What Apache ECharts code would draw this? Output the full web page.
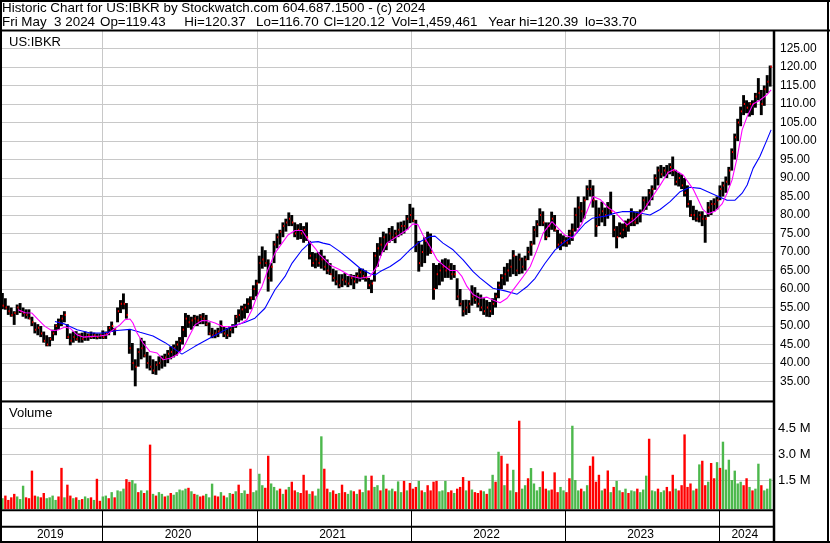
<!DOCTYPE html>
<html><head><meta charset="utf-8">
<script src="https://cdn.jsdelivr.net/npm/echarts@6/dist/echarts.min.js"></script>
<style>html,body{margin:0;padding:0;background:#fff}#c{width:830px;height:543px}</style>
</head><body><div id="c"></div>
<script>
// ---------- data ----------
const titleLine1 = 'Historic Chart for US:IBKR by Stockwatch.com 604.687.1500 - (c) 2024';
const titleFields = ['Fri May  3 2024','Op=119.43','Hi=120.37','Lo=116.70','Cl=120.12','Vol=1,459,461','Year hi=120.39','lo=33.70'];
const symbolLabel = 'US:IBKR';
const volumeLabel = 'Volume';
const firstWeek = '2019-05-09';           // week 0 (weekly bars)
const axisStart = '2019-05-08';
const axisEnd = '2024-05-11';
const yearLabels = ['2019','2020','2021','2022','2023','2024'];
const yearBoundaries = ['2020-01-01','2021-01-01','2022-01-01','2023-01-01','2024-01-01'];
const priceTicks = {min:30, max:130, step:5};
const volumeTicks = {min:0, max:6, step:1.5};

const priceLow = [
54.5,54.4,53,52.5,50.3,53,53.5,52.5,52,51.8,
50,48,47.5,47,45.5,44.5,44.5,46,47.5,49,
50,51,46.5,44.8,45.5,46,45.5,45.5,46,46,
46.5,46.5,46.4,46.5,46.5,46.5,47.5,48.5,47.5,51,
53.5,54.5,52,42.5,38,33.7,39,41,41.5,38.5,
38,37,36.8,38,38.5,39,40,41,41.5,42,
43,45,47,49.5,49,50,50,50.5,50.5,50,
47.5,46.7,46.7,47,48,47,46.5,47,48,49.5,
51,51.5,52,53.5,54.5,57,58,61.5,65.5,66,
59.3,62,67,71,72,74,75.5,77,77,74,
73.3,73.5,72.5,73,68,66,65.6,66,65.5,65,
64,63.8,62,61,60.2,60.5,61,60.5,61,60,
61.5,62,62.5,62,60,58.9,62,66,69,70,
70.5,72.5,73,72.4,74,74.5,75,76,77.8,78,
70,64.7,66,67,69,69.5,57.1,60,61,62,
63,63,62.5,63,57,55.3,52.6,53,53.5,55.5,
56,55,54,53,52.5,52.4,53,55,57.5,60,
61,62,63.3,64,63.5,64,64.2,65,67.8,69,
72,74,77,77,73.2,74,76,75.5,71,70.5,
71.5,71.4,72,73,75.5,76.5,78,79,84,85,
82,74.1,77,78,77,79,80,74,71,74,
73.7,74,75.5,77,77,77.5,78,81,81.4,82.5,
84,86.8,88,90,90.4,90,91,90.5,88,87.7,
87,85,82,79.5,78.6,78.2,78,77,72.5,79.5,
80,81,81.5,84,85,86,88,92,95,100,
104,107,107.5,106.6,107,109,111,107,109.5,112.9,
114.7];
const priceHigh = [
58.9,57.5,55.5,55,54,55.8,56.2,55,54.5,54.5,
52.5,51,50.5,50,48.5,47.5,47,49,50.5,52,
53,54,50.5,48,48.5,48.6,48,48.2,48.5,48,
48.5,48.2,48,48,48.8,48.5,50,51.2,49.5,55,
57,58.8,56.2,49,45.4,41,44,46.8,46,43,
42,41,40.5,41.8,42,42.5,43.5,44.5,45,46,
47,50,53.5,53,52.5,53,52.8,53.2,53.5,53,
51,49.5,49,49.5,51.5,50,49.5,50,50.5,53,
54.5,55.5,56,57.5,58,61,62.5,69,71.5,70.5,
68,67,73,75,76,78,79,80.7,80,78,
77.5,77.8,77,78,73,70,69.7,70,70.6,69,
68,67,65.5,65,64,64,64.3,63.5,64,63.8,
64.5,65.6,65.5,65,63,62.5,70,72.4,74,75.5,
75,76.5,77,76,78,78.2,78.5,80,83,82,
78.7,73,72,74,75.5,75,67,66.5,67,68,
68.3,68,67,66.5,62.9,60,57,57.1,57,61,
60.5,59,58.5,57.5,57,56.5,57.5,59,62,64,
66,67,68,70.5,69,69.6,68.5,69,71.4,73,
77,78.6,81.8,81,78,78,80.9,80,76,75,
74.5,74,76,77.7,82,85,83.5,85,88,89.5,
88,84,82,83.6,82,83.5,86.3,80,77,78,
77.7,78.5,79,81.8,81,81,81.5,85,85,87,
88,91,93.1,93.5,93,93.5,94,95.8,92.2,91.5,
91,90,88,84,82.5,81.4,81,81,80,83.5,
84,84.5,85,88,89,90.4,93,98,102,106,
109.3,112.4,111,110.5,111,113,117,113.8,115,117.8,
120.4];
const priceClose = [
55.5,55,54,53,53.5,55,54,53.5,53,52,
51,49,49.5,48,46,45,46.5,48,50,51,
52,53,47,46,47,46.5,47.5,46.5,47,47.5,
47,47.5,47,47.5,47,48,49.5,50,49,54,
56,56,53,44,40,39,43,44,42,40,
39,38,39.5,40,41,41.5,42.5,43,44,45,
46,49,52,51,51.5,52,51.5,52.5,52,50.5,
48,47.5,48,48.5,50,48,47.5,49,50,52.5,
53,54.5,55,56,57.5,60,61.5,67,68,67,
63,66,72,74,75.5,77,78,79,78,75,
76,75,76,74,69,67,68,67,68,66,
65,64,63,62,61,62.5,62,61.5,63,62,
63.5,64.5,63.5,63,61,61.5,69,71,72,74,
72,75,74,75,76,77,77,79,80,78.5,
72,67,70,73,72,70,60,64,65,66,
65,66,64,64,58,56,54,55,56,58,
57,56,55,54,55,54,56,58,61,63,
64,65,66,69,65,68,66,68,70,72,
76,77.5,80,78,74,77,79,76,72,72.5,
73,72.5,75,76,80,82,81,84,87,87,
84,77,80,81,80,82,81,76,74,75,
76,77,78,79,78,80,80.5,84,83,86,
87,90,92,91,92,91.5,93,92,89,90,
88,86,83,80,80,79,80,79,79,82,
83,83,84,87,88,89,92,97,101,105,
108,110,109,110,110,112,113,110,114,116,
120.1];
const volume = [
0.45,0.6,0.35,0.5,0.7,0.55,0.4,1.17,0.5,0.45,
2.04,0.6,0.55,0.5,0.75,0.45,0.5,0.6,0.35,0.55,
2.2,0.5,1.23,0.6,0.45,0.5,0.35,0.4,0.55,0.45,
0.5,0.35,1.57,0.3,0.55,0.6,0.45,0.8,0.5,0.9,
0.85,1.0,1.55,1.4,1.5,1.3,0.8,0.9,0.75,0.9,
3.54,0.7,0.6,0.8,0.7,0.55,0.6,0.75,0.65,0.8,
0.95,0.9,1.0,1.05,0.85,0.7,0.65,0.55,0.6,0.7,
0.5,1.29,0.6,0.55,0.8,0.6,0.5,0.75,0.7,0.85,
1.23,0.75,0.9,0.7,2.15,0.8,0.9,1.86,1.2,1.05,
2.9,1.3,1.1,0.9,1.0,0.7,0.95,1.1,1.4,0.9,
0.8,0.75,1.8,0.9,0.7,0.85,0.6,1.0,4.02,2.15,
1.0,0.8,0.9,0.7,0.75,1.23,0.8,0.7,0.9,0.85,
0.7,0.95,0.8,1.75,0.9,1.75,1.1,1.2,0.9,1.8,
1.0,0.9,1.0,0.85,1.42,0.8,1.45,0.9,1.33,1.0,
1.1,1.45,0.9,0.8,1.2,0.9,1.4,1.45,0.85,0.9,
1.45,0.8,0.9,0.75,1.0,1.1,1.67,0.9,1.45,0.95,
0.8,0.75,0.9,0.85,0.7,1.0,1.8,1.4,3.13,2.9,
1.2,2.44,0.9,2.09,0.8,4.92,1.0,1.2,1.6,2.19,
1.3,0.9,1.1,2.0,1.0,0.9,0.95,1.94,0.8,1.1,
0.9,0.8,1.6,4.63,1.5,0.9,1.0,0.85,1.2,2.32,
2.86,1.4,1.8,0.9,1.0,2.05,0.8,1.1,1.45,0.9,
0.8,1.0,0.75,0.9,0.85,1.0,0.8,0.95,1.75,3.88,
0.9,0.85,1.0,0.8,0.9,1.1,0.85,1.8,1.0,0.9,
1.2,4.13,1.1,1.3,0.9,1.0,2.4,2.61,1.2,1.4,
2.48,1.6,2.53,2.2,3.71,2.1,2.67,1.5,2.04,1.3,
1.4,1.2,1.6,1.1,0.9,1.0,2.44,1.2,0.9,1.0,
1.58];
// u = up-day volume (green), d = down (red)
const volumeDir =
'udddduuudd'+'ddudduuuud'+'duddududuu'+'dudduududu'+'uudduududu'+
'duduududuu'+'uuudududdu'+'uudduduudu'+'duudduuuud'+'duuudududd'+
'uddduduuud'+'duddudduud'+'uduudduudu'+'duuduududd'+'dududddduu'+
'uddudddudu'+'ddduduudud'+'uduudduudu'+'uuuddudddu'+'udduuuduud'+
'dddudduduu'+'duduuduuud'+'uuduudddud'+'ddddududdu'+'dduduuuuuu'+
'udduduuduu'+'u';
// moving averages, read at week positions
const ma50Week = [5.3,7.7,10.0,12.1,14.4,16.8,18.8,21.2,22.9,25.3,27.3,30.7,33.0,35.4,37.5,39.8,41.5,43.2,44.2,45.6,47.6,50.0,52.4,54.4,56.8,59.1,61.2,62.9,65.2,67.6,69.6,72.0,74.4,76.4,78.8,81.1,82.8,84.5,86.2,87.9,89.9,92.3,94.7,96.7,99.1,101.5,103.5,105.9,107.5,110.9,114.3,117.7,121.1,124.5,126.9,128.5,130.2,133.6,137.0,139.0,140.7,142.4,144.8,147.2,149.2,151.6,153.9,155.6,157.3,159.4,161.7,164.1,166.1,168.5,170.9,172.9,176.3,178.7,181.0,183.1,186.1,188.1,190.5,193.2,196.3,200.0,202.4,205.1,207.4,211.5,213.6,216.9,219.3,222.7,225.4,227.4,230.5,233.9,237.2,238.9,241.3,243.7,245.4,247.1,248.8,250.5,252.2,254.2,256.5,258.9,260.3];
const ma50Value = [54.4,53.6,53.5,51.7,49.9,48.7,48.9,49.7,49.4,47.6,47,47.2,47.3,47.6,49,50.3,51.7,51.9,50.8,48.1,45.4,43.1,42.7,40.9,41.3,42.2,44,46.7,50.3,51.5,51.4,50.8,49.9,49.8,50,50.8,51.7,54.4,58,60.7,65.2,69.7,72.4,74.6,75.8,75.8,73.3,71,69.2,66.5,65.2,63.6,62.9,63.4,66.1,69.7,72.4,74.2,76,77.6,77.4,74.6,71.5,67.9,66.5,65,65,63.4,60.7,58.5,57.5,57.8,57,56.3,57.5,59.7,63.3,66,70.5,75.1,78.2,76.5,74.5,73.8,77.8,85,84.2,82,80.8,77.3,78.5,81,84,88,91.5,92.3,90.8,87,81.5,80.3,81,83,85.9,89.5,95.5,103,106.6,110,111,112.5,113.8];
const ma200Week = [17.8,21.2,25.3,29.7,34.1,38.8,43.2,46.6,51.0,55.1,60.8,65.2,68.6,72.0,77.7,82.2,85.5,88.9,92.3,95.7,98.1,101.5,104.2,106.9,108.6,110.9,114.3,117.7,121.1,124.5,126.2,127.9,131.3,134.6,138.0,141.4,144.8,146.5,149.2,152.6,156.0,159.4,161.7,166.1,170.2,174.3,177.6,180.4,183.7,187.1,190.5,193.9,197.3,199.7,204.1,207.5,209.8,213.6,219.3,222.7,226.1,229.5,232.8,236.2,239.6,243.0,245.4,248.1,250.5,252.2,254.2,256.5,258.9,260.3];
const ma200Value = [51.2,50.5,49,48.1,48.1,48.8,49.1,48.3,47.3,45.5,42.4,44.5,46,47.5,49.9,51,52.1,54.8,59.8,63.4,67,70.6,72.6,72.8,72.4,72,70.1,67.9,65.6,64.1,63.8,64.7,66.1,67.9,70.6,72.8,74.2,74.3,72.4,70.6,67.9,64.7,63,60.2,59.5,58.6,60.6,62.9,66.9,70.5,72.8,74.6,77.7,79.1,79.7,80.5,80.9,80.9,80,81.5,83.6,86.3,87.5,87.2,86,84.8,84,84,85.9,88.1,92.6,95.8,100.3,103];

// ---------- build ----------
const DAY = 86400000;
const t0 = Date.parse(firstWeek + 'T00:00:00Z');
const weekTime = w => t0 + w * 7 * DAY;
const tMin = Date.parse(axisStart + 'T00:00:00Z');
const tMax = Date.parse(axisEnd + 'T00:00:00Z');
const FONT = '"Liberation Sans", Arial, sans-serif';

const priceData = priceLow.map((lo, i) => [weekTime(i), lo, priceHigh[i], priceClose[i]]);
const volData = volume.map((v, i) => [weekTime(i), v, volumeDir[i] === 'u' ? 1 : 0]);
const ma50Data = ma50Week.map((w, k) => [weekTime(w), ma50Value[k]]);
const ma200Data = ma200Week.map((w, k) => [weekTime(w), ma200Value[k]]);

const chart = echarts.init(document.getElementById('c'), null, {renderer: 'canvas'});

chart.setOption({
  animation: false,
  backgroundColor: '#ffffff',
  grid: [
    {left: 2, top: 30, width: 772, height: 370},
    {left: 2, top: 402, width: 772, height: 104}
  ],
  xAxis: [
    {gridIndex: 0, type: 'time', min: tMin, max: tMax, show: false},
    {gridIndex: 1, type: 'time', min: tMin, max: tMax, show: false}
  ],
  yAxis: [
    {gridIndex: 0, type: 'value', position: 'right', min: priceTicks.min, max: priceTicks.max, interval: priceTicks.step,
     axisLine: {show: false}, axisTick: {show: false},
     splitLine: {show: true, lineStyle: {color: '#c8c8c8', width: 1}},
     axisLabel: {margin: 6, color: '#000', fontSize: 12, fontFamily: FONT, align: 'left',
       formatter: v => (v <= priceTicks.min || v >= priceTicks.max) ? '' : v.toFixed(2)}},
    {gridIndex: 1, type: 'value', position: 'right', min: volumeTicks.min, max: volumeTicks.max, interval: volumeTicks.step,
     axisLine: {show: false}, axisTick: {show: false},
     splitLine: {show: true, lineStyle: {color: ['rgba(0,0,0,0)', '#c8c8c8', '#c8c8c8', '#c8c8c8', 'rgba(0,0,0,0)'], width: 1}},
     axisLabel: {margin: 4, color: '#000', fontSize: 13, fontFamily: FONT, align: 'left',
       formatter: v => (v <= volumeTicks.min || v >= volumeTicks.max) ? '' : v.toFixed(1) + ' M'}}
  ],
  series: [
    {type: 'custom', name: 'price', xAxisIndex: 0, yAxisIndex: 0, data: priceData, clip: true, z: 3,
     encode: {x: 0, y: [1, 2, 3]},
     renderItem: (params, api) => {
       const t = api.value(0);
       const lo = api.coord([t, api.value(1)]);
       const hi = api.coord([t, api.value(2)]);
       const cl = api.coord([t, api.value(3)]);
       return {type: 'group', children: [
         {type: 'rect', shape: {x: lo[0] - 1.5, y: hi[1], width: 2.9, height: Math.max(1, lo[1] - hi[1])}, style: {fill: '#000'}},
         {type: 'rect', shape: {x: cl[0] + 0.2, y: cl[1] - 1, width: 1.4, height: 2}, style: {fill: '#ff0000'}}
       ]};
     }},
    {type: 'line', name: 'ma200', xAxisIndex: 0, yAxisIndex: 0, data: ma200Data, showSymbol: false, z: 4,
     lineStyle: {color: '#0000ff', width: 1.1}, itemStyle: {color: '#0000ff'}},
    {type: 'line', name: 'ma50', xAxisIndex: 0, yAxisIndex: 0, data: ma50Data, showSymbol: false, z: 5,
     lineStyle: {color: '#ff00ff', width: 1.1}, itemStyle: {color: '#ff00ff'}},
    {type: 'custom', name: 'volume', xAxisIndex: 1, yAxisIndex: 1, data: volData, clip: false, z: 3,
     encode: {x: 0, y: 1},
     renderItem: (params, api) => {
       const t = api.value(0);
       const base = api.coord([t, 0]);
       const top = api.coord([t, api.value(1)]);
       return {type: 'rect', shape: {x: top[0] - 1.2, y: top[1], width: 2.4, height: base[1] + 3 - top[1]},
               style: {fill: api.value(2) === 1 ? '#4cb84c' : '#ff0000'}};
     }}
  ]
});

// ---------- frame, texts, year cells ----------
const px = t => chart.convertToPixel({xAxisIndex: 0}, t);
const bx = yearBoundaries.map(d => Math.round(px(Date.parse(d + 'T00:00:00Z'))) + 0.5);
const edges = [2].concat(bx).concat([774]);
const g = [];
const line = (x1, y1, x2, y2, color, w, z) => g.push({type: 'line', z: z, silent: true,
  shape: {x1, y1, x2, y2}, style: {stroke: color, lineWidth: w}});
const text = (str, x, y, size, align) => g.push({type: 'text', z: 120, silent: true, x: x, y: y,
  style: {text: str, font: size + 'px ' + FONT, fill: '#000', textAlign: align || 'left', textVerticalAlign: 'middle',
          align: align || 'left', verticalAlign: 'middle'}});

bx.forEach(x => { line(x, 31, x, 400, '#c8c8c8', 1, 0); line(x, 402, x, 509, '#c8c8c8', 1, 0); line(x, 510, x, 541, '#000', 1, 100); });
// frame
line(1, 0, 1, 543, '#000', 2, 100);
line(0, 1, 830, 1, '#000', 2, 100);
line(828, 0, 828, 543, '#000', 2, 100);
line(0, 542, 830, 542, '#000', 2, 100);
line(0, 30.5, 830, 30.5, '#000', 2, 100);
line(774, 31, 774, 543, '#000', 2.5, 100);
line(0, 401.5, 774, 401.5, '#000', 2, 100);
line(0, 510.2, 774, 510.2, '#000', 2, 100);
line(0, 526.7, 774, 526.7, '#000', 2, 100);
// titles
text(titleLine1, 2, 8, 13.4);
const fieldX = [2, 100, 184.3, 256, 323.5, 391.5, 488.3, 585];
titleFields.forEach((f, k) => text(f, fieldX[k], 22, 13.4));
text(symbolLabel, 9, 42, 13);
text(volumeLabel, 9, 413, 13);
yearLabels.forEach((y, k) => text(y, (edges[k] + edges[k + 1]) / 2 - 2, 535, 12, 'center'));

chart.setOption({graphic: {elements: g}});
</script></body></html>
